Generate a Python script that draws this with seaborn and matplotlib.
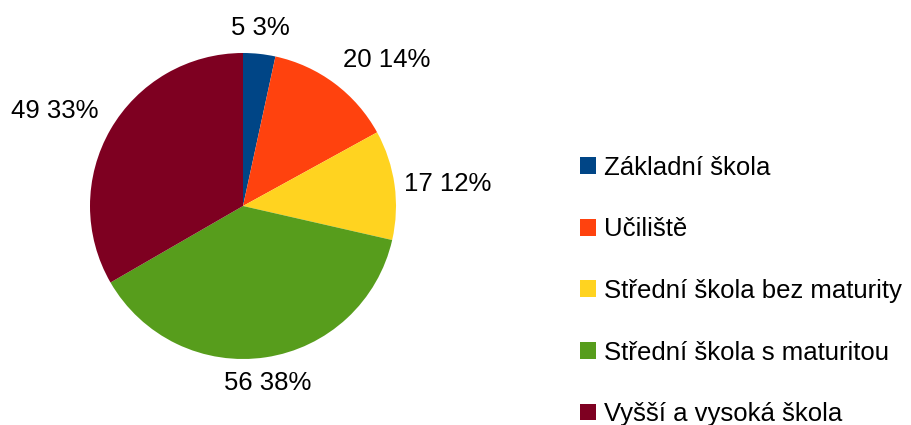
import matplotlib
matplotlib.use("Agg")
import matplotlib.pyplot as plt
import seaborn as sns
import numpy as np

# data
categories = ["Základní škola", "Učiliště", "Střední škola bez maturity",
              "Střední škola s maturitou", "Vyšší a vysoká škola"]
counts = [5, 20, 17, 56, 49]
percents = [3, 14, 12, 38, 33]
colors = ["#004586", "#ff420e", "#ffd320", "#579d1c", "#7e0021"]

sns.set_style("white")
plt.rcParams['font.family'] = ['Liberation Sans', 'DejaVu Sans']
plt.rcParams['text.color'] = 'black'

fig = plt.figure(figsize=(9.11, 4.25), dpi=100)
ax = fig.add_axes([90 / 911, (425 - 359) / 425, 306 / 911, 306 / 425])

wedges, _ = ax.pie(counts, colors=sns.color_palette(colors), startangle=90,
                   counterclock=False, radius=1,
                   wedgeprops=dict(linewidth=0))
ax.set_xlim(-1, 1)
ax.set_ylim(-1, 1)
ax.set_aspect('equal')
ax.axis('off')

# labels outside the slices
fs = 18.5
for w, c, p in zip(wedges, counts, percents):
    ang = np.deg2rad((w.theta1 + w.theta2) / 2)
    x, y = np.cos(ang), np.sin(ang)
    ha = 'center' if abs(x) < 0.3 else ('left' if x > 0 else 'right')
    va = 'center' if abs(y) < 0.3 else ('bottom' if y > 0 else 'top')
    r = 1.06 if va == 'center' else 1.09
    ax.text(r * x, r * y, f"{c} {p}%", ha=ha, va=va, fontsize=fs,
            color='black')

fig.legend(wedges, categories, loc='center left',
           bbox_to_anchor=(580 / 911, (425 - 291) / 425),
           frameon=False, fontsize=fs, borderpad=0, borderaxespad=0,
           handlelength=0.64, handleheight=0.64, handletextpad=0.3,
           labelspacing=1.46, labelcolor='black')

fig.savefig("out.png", dpi=100)
